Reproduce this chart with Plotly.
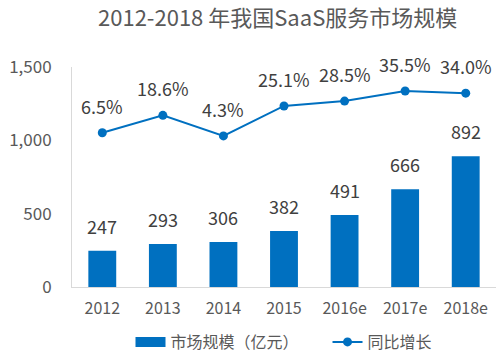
import plotly.graph_objects as go

categories = ["2012", "2013", "2014", "2015", "2016e", "2017e", "2018e"]
market_size = [247, 293, 306, 382, 491, 666, 892]
growth_rate = [0.065, 0.186, 0.043, 0.251, 0.285, 0.355, 0.340]
y_ticks = [0, 500, 1000, 1500]

BLUE = "#0070C0"
FONT = "Noto Sans CJK SC"

fig = go.Figure()
fig.add_trace(go.Bar(
    x=categories, y=market_size, name="市场规模（亿元）",
    marker=dict(color=BLUE, line=dict(width=0)),
    showlegend=False, legendgroup="bar",
))
# legend stand-in for the bar series (wide flat rectangle); ideographic spaces pad the gap
fig.add_trace(go.Scatter(
    x=[categories[0]], y=[None], mode="lines", name="市场规模（亿元）\u3000\u3000",
    line=dict(color=BLUE, width=10), legendgroup="bar", hoverinfo="skip",
))
fig.add_trace(go.Scatter(
    x=categories, y=growth_rate, name="同比增长", yaxis="y2",
    mode="lines+markers",
    line=dict(color=BLUE, width=2),
    marker=dict(color=BLUE, size=9),
))

# annotations use category index (labels like "2012" would be read as numbers)
for i, v in enumerate(market_size):
    fig.add_annotation(x=i, y=v, text=str(v), showarrow=False,
                       yanchor="middle", yshift=25,
                       font=dict(family=FONT, size=18, color="#404040"))
for i, g in enumerate(growth_rate):
    fig.add_annotation(x=i, y=g, yref="y2", text=f"{g*100:.1f}%", showarrow=False,
                       yanchor="middle", yshift=27,
                       font=dict(family=FONT, size=18, color="#404040"))

fig.update_layout(
    width=501, height=356,
    margin=dict(l=72, r=5, t=67, b=69, autoexpand=False),
    paper_bgcolor="white", plot_bgcolor="white",
    font=dict(family=FONT, color="#595959"),
    title=dict(text="2012-2018 年我国SaaS服务市场规模",
               x=0.485, xref="paper", xanchor="center",
               y=0.95, yref="container", yanchor="middle",
               font=dict(family=FONT, size=22, color="#595959")),
    bargap=0.54,
    showlegend=True,
    legend=dict(orientation="h", x=0.50, xanchor="center", y=-0.25, yanchor="middle",
                font=dict(family=FONT, size=16, color="#595959"),
                bgcolor="rgba(0,0,0,0)"),
    xaxis=dict(type="category", categoryorder="array", categoryarray=categories,
               range=[-0.5, len(categories) - 0.5],
               showgrid=False, showline=True, linecolor="#D9D9D9",
               linewidth=1, ticks="", ticklabelstandoff=7,
               tickfont=dict(family=FONT, size=16, color="#595959")),
    yaxis=dict(range=[0, 1500], tickvals=y_ticks, tickformat=",", showgrid=False,
               zeroline=False, showline=True, linecolor="#D9D9D9", linewidth=1,
               ticks="", ticklabelstandoff=16,
               tickfont=dict(family=FONT, size=17, color="#595959")),
    yaxis2=dict(range=[-1.008, 0.522], overlaying="y", side="right", visible=False),
)

fig.write_html("out.html", config={"displayModeBar": False},
               post_script="document.body.style.margin='0';")
